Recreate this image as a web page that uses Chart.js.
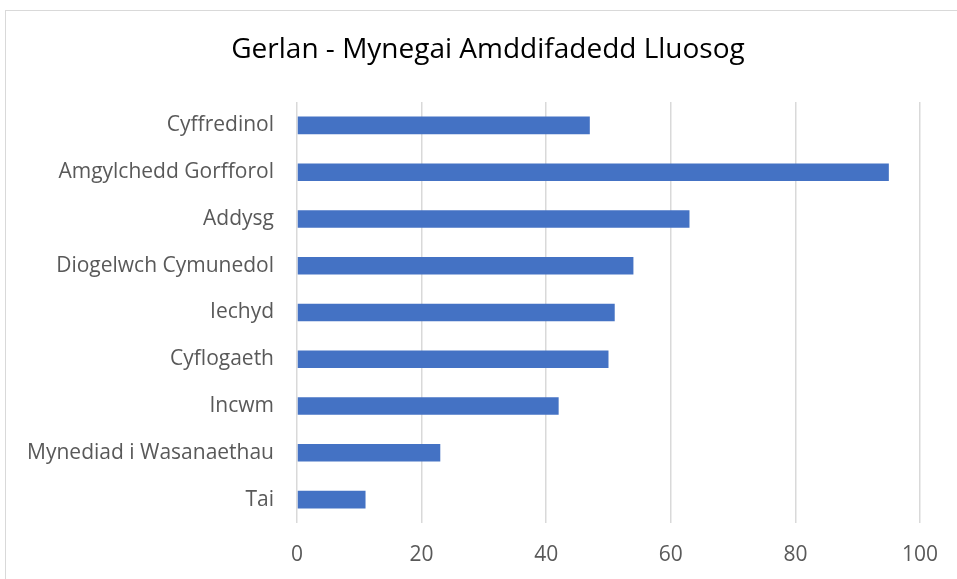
<!DOCTYPE html>
<html>
<head>
<meta charset="utf-8">
<script src="https://cdn.jsdelivr.net/npm/chart.js"></script>
<style>
  body { margin: 0; background: #fff; overflow: hidden; }
  #frame { position: absolute; left: 5px; top: 10px; width: 1000px; height: 1000px; border: 1px solid #d9d9d9; }
  #wrap { position: absolute; left: 0; top: 0; width: 957px; height: 579px; }
</style>
</head>
<body>
<div id="frame"></div>
<div id="wrap"><canvas id="grafico" width="957" height="579"></canvas></div>
<script>
const categorias = ["Cyffredinol", "Amgylchedd Gorfforol", "Addysg", "Diogelwch Cymunedol", "Iechyd", "Cyflogaeth", "Incwm", "Mynediad i Wasanaethau", "Tai"];
const valores = [47, 95, 63, 54, 51, 50, 42, 23, 11];
const ticksX = [0, 20, 40, 60, 80, 100];
const titulo = "Gerlan - Mynegai Amddifadedd Lluosog";

const fuente = "'Open Sans', 'Liberation Sans', sans-serif";

// el titulo va centrado en todo el marco, no en el area del grafico
const tituloPlugin = {
    id: "tituloMarco",
    afterDraw(chart) {
        const ctx = chart.ctx;
        ctx.save();
        ctx.font = "28px " + fuente;
        ctx.fillStyle = "#000";
        ctx.textAlign = "center";
        ctx.textBaseline = "middle";
        ctx.fillText(titulo, 488, 50);
        ctx.restore();
    }
};

new Chart(document.getElementById("grafico"), {
    type: "bar",
    data: {
        labels: categorias,
        datasets: [{
            data: valores,
            backgroundColor: "#4472C4",
            barPercentage: 0.75,
            categoryPercentage: 0.5
        }]
    },
    options: {
        indexAxis: "y",
        responsive: false,
        animation: false,
        layout: { padding: { left: 0, right: 37, top: 102, bottom: 0 } },
        plugins: {
            legend: { display: false },
            tooltip: { enabled: false },
            title: { display: false }
        },
        scales: {
            x: {
                min: 0,
                max: 100,
                afterBuildTicks: scale => { scale.ticks = ticksX.map(v => ({ value: v })); },
                afterFit: scale => { scale.height = 56; },
                grid: { color: "#d9d9d9", lineWidth: 1.5, drawTicks: false },
                border: { display: false },
                ticks: { color: "#595959", font: { family: fuente, size: 21 }, padding: 19 }
            },
            y: {
                afterFit: scale => { scale.width = 297; },
                grid: { display: false, drawTicks: false },
                border: { display: false },
                ticks: { color: "#595959", font: { family: fuente, size: 21 }, padding: 23 }
            }
        }
    },
    plugins: [tituloPlugin]
});
</script>
</body>
</html>
